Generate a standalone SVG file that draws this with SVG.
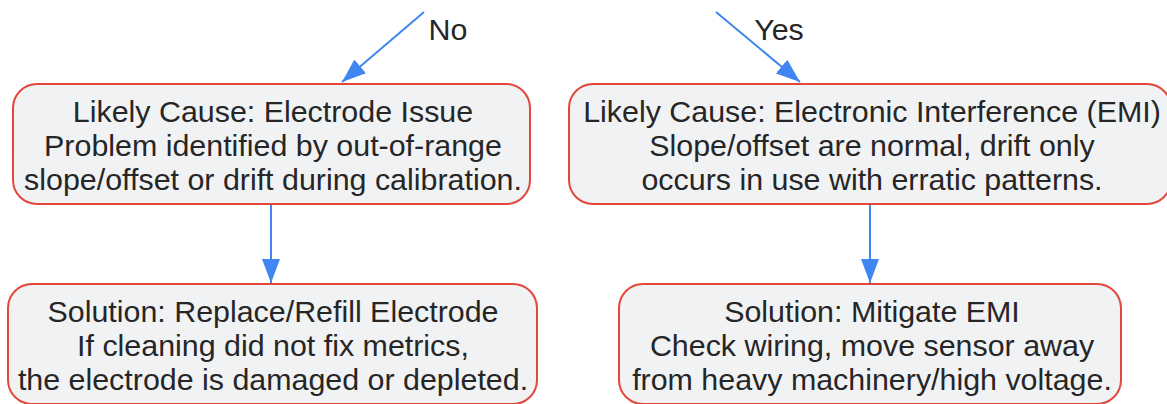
<svg xmlns="http://www.w3.org/2000/svg" width="1167" height="404" viewBox="0 0 1167 404">
<defs>
<style>
.node rect{fill:#f1f2f4;stroke:#e5463b;stroke-width:2}
.node text{font-family:"Liberation Sans",Arial,sans-serif;font-size:30.4px;fill:#262626;text-anchor:middle}
.edge{stroke:#3f86f2;stroke-width:2;fill:none}
.lbl{font-family:"Liberation Sans",Arial,sans-serif;font-size:30.4px;fill:#262626;text-anchor:middle}
</style>
<marker id="ah" markerUnits="userSpaceOnUse" markerWidth="24" markerHeight="18" refX="24" refY="9" orient="auto" viewBox="0 0 24 18">
<path d="M0,0 L24,9 L0,18 z" fill="#3f86f2"/>
</marker>
</defs>
<rect width="1167" height="404" fill="#ffffff"/>
<g id="connectors">
<line class="edge" x1="424" y1="12" x2="342" y2="82" marker-end="url(#ah)"/>
<line class="edge" x1="716" y1="12" x2="800" y2="82" marker-end="url(#ah)"/>
<line class="edge" x1="271" y1="205" x2="271" y2="283" marker-end="url(#ah)"/>
<line class="edge" x1="870" y1="205" x2="870" y2="283" marker-end="url(#ah)"/>
<text class="lbl" x="448" y="40">No</text>
<text class="lbl" x="779" y="40">Yes</text>
</g>
<g id="node-electrode" class="node">
<rect x="13" y="84" width="517" height="120" rx="24"/>
<text x="273" y="122">Likely Cause: Electrode Issue</text>
<text x="273" y="156">Problem identified by out-of-range</text>
<text x="273" y="190">slope/offset or drift during calibration.</text>
</g>
<g id="node-emi" class="node">
<rect x="569" y="84" width="602" height="120" rx="24"/>
<text x="872" y="122">Likely Cause: Electronic Interference (EMI)</text>
<text x="872" y="156">Slope/offset are normal, drift only</text>
<text x="872" y="190">occurs in use with erratic patterns.</text>
</g>
<g id="node-replace" class="node">
<rect x="8" y="284" width="529" height="120" rx="24"/>
<text x="273" y="322">Solution: Replace/Refill Electrode</text>
<text x="273" y="356">If cleaning did not fix metrics,</text>
<text x="273" y="390">the electrode is damaged or depleted.</text>
</g>
<g id="node-mitigate" class="node">
<rect x="619" y="284" width="502" height="120" rx="24"/>
<text x="872" y="322">Solution: Mitigate EMI</text>
<text x="872" y="356">Check wiring, move sensor away</text>
<text x="872" y="390">from heavy machinery/high voltage.</text>
</g>
</svg>
